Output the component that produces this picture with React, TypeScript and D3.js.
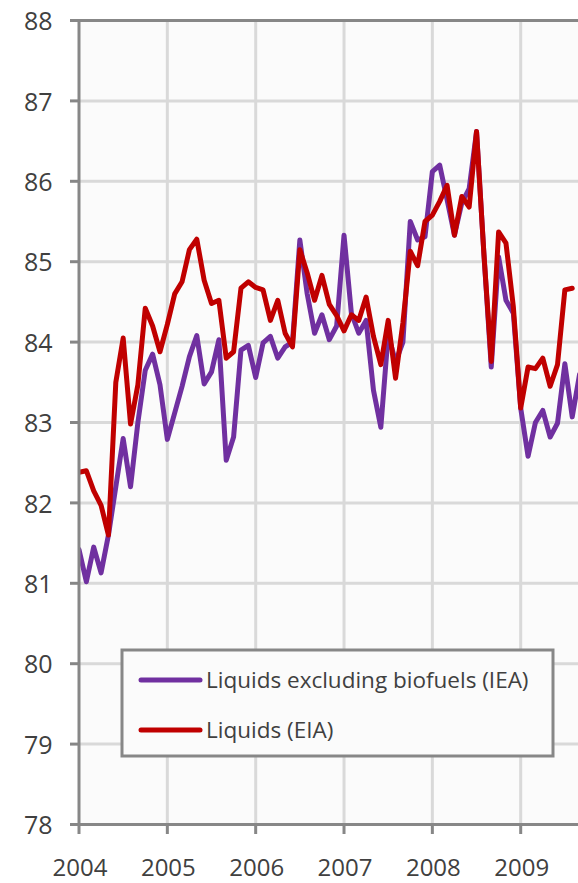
import React from 'react';
import * as d3 from 'd3';

const WIDTH = 578;
const HEIGHT = 883;
const margin = { l: 79, t: 20.5, r: 0, b: 58.5 };

const years = [2004, 2005, 2006, 2007, 2008, 2009];
const yTicks = [78, 79, 80, 81, 82, 83, 84, 85, 86, 87, 88];

// monthly, starting Jan 2004 (mb/d)
const iea = [
  81.42, 81.02, 81.45, 81.13, 81.6, 82.2, 82.8, 82.2, 83.0, 83.65, 83.85, 83.47,
  82.79, 83.12, 83.45, 83.82, 84.08, 83.48, 83.63, 84.03, 82.53, 82.82, 83.9, 83.96,
  83.56, 83.99, 84.07, 83.8, 83.94, 84.0, 85.27, 84.6, 84.11, 84.34, 84.03, 84.2,
  85.33, 84.36, 84.11, 84.27, 83.4, 82.94, 84.1, 83.75, 84.0, 85.5, 85.27, 85.31,
  86.12, 86.2, 85.77, 85.33, 85.73, 85.91, 86.62, 85.1, 83.69, 85.06, 84.52, 84.36,
  83.18, 82.58, 83.0, 83.15, 82.82, 82.99, 83.73, 83.07, 83.6,
];
const eia = [
  82.38, 82.4, 82.15, 81.97, 81.6, 83.5, 84.05, 82.98, 83.47, 84.42, 84.2, 83.88,
  84.22, 84.6, 84.75, 85.15, 85.28, 84.77, 84.48, 84.52, 83.8, 83.88, 84.67, 84.75,
  84.68, 84.65, 84.27, 84.52, 84.11, 83.94, 85.15, 84.86, 84.52, 84.83, 84.47, 84.33,
  84.14, 84.34, 84.27, 84.56, 84.07, 83.72, 84.27, 83.55, 84.24, 85.13, 84.95, 85.5,
  85.58, 85.75, 85.95, 85.33, 85.81, 85.68, 86.62, 85.1, 83.76, 85.37, 85.23, 84.44,
  83.18, 83.69, 83.67, 83.8, 83.45, 83.72, 84.65, 84.67,
];

const series = [
  { name: 'Liquids excluding biofuels (IEA)', color: '#7030a0', values: iea },
  { name: 'Liquids (EIA)', color: '#c00000', values: eia },
];

const GRID = '#d9d9d9';
const AXIS = '#878787';
const TEXT = '#404040';
const FONT = "'Open Sans', 'Liberation Sans', sans-serif";

const App = () => {
  const plotW = 88.34 * 6;
  const plotH = HEIGHT - margin.t - margin.b;

  // x in months since Jan 2004
  const xScale = d3.scaleLinear().domain([0, 72]).range([0, plotW]);
  const yScale = d3.scaleLinear().domain([78, 88]).range([plotH, 0]);

  const line = d3
    .line<number>()
    .x((d, i) => xScale(i))
    .y((d) => yScale(d));

  return (
    <svg
      width={WIDTH}
      height={HEIGHT}
      style={{ position: 'absolute', left: 0, top: 0, background: '#fff' }}
      fontFamily={FONT}
    >
      <defs>
        <clipPath id="plot">
          <rect x={0} y={-5} width={plotW} height={plotH + 10} />
        </clipPath>
      </defs>
      <g transform={`translate(${margin.l}, ${margin.t})`}>
        <rect x={0} y={0} width={plotW} height={plotH} fill="#fbfbfb" />
        {/* gridlines */}
        {yTicks.map((t) => (
          <line key={'gy' + t} x1={0} x2={plotW} y1={yScale(t)} y2={yScale(t)} stroke={GRID} strokeWidth={3} />
        ))}
        {years.slice(1).map((yr) => (
          <line
            key={'gx' + yr}
            x1={xScale((yr - 2004) * 12)}
            x2={xScale((yr - 2004) * 12)}
            y1={0}
            y2={plotH}
            stroke={GRID}
            strokeWidth={3}
          />
        ))}
        {/* frame top */}
        <line x1={0} x2={plotW} y1={0} y2={0} stroke={AXIS} strokeWidth={3} />

        <g clipPath="url(#plot)">
          {series.map((s) => (
            <path
              key={s.name}
              d={line(s.values) || ''}
              fill="none"
              stroke={s.color}
              strokeWidth={5}
              strokeLinejoin="round"
              strokeLinecap="round"
            />
          ))}
        </g>

        {/* axes */}
        <line x1={0} x2={0} y1={-1.5} y2={plotH + 1.5} stroke={AXIS} strokeWidth={3} />
        <line x1={-9} x2={plotW} y1={plotH} y2={plotH} stroke={AXIS} strokeWidth={3} />
        {yTicks.map((t) => (
          <g key={'ty' + t} transform={`translate(0, ${yScale(t)})`}>
            <line x1={-9} x2={0} stroke={AXIS} strokeWidth={3} />
            <text x={-26.5} y={1} dy="0.35em" textAnchor="end" fontSize={25} fill={TEXT}>
              {t}
            </text>
          </g>
        ))}
        {years.map((yr) => (
          <g key={'tx' + yr} transform={`translate(${xScale((yr - 2004) * 12)}, ${plotH})`}>
            <line y1={0} y2={9.5} stroke={AXIS} strokeWidth={3} />
            <text x={1} y={51.5} textAnchor="middle" fontSize={24} fill={TEXT}>
              {yr}
            </text>
          </g>
        ))}
      </g>

      {/* legend */}
      <g transform="translate(122, 650)">
        <rect x={0} y={0} width={431} height={106} fill="#fbfbfb" stroke={AXIS} strokeWidth={3} />
        {series.map((s, i) => (
          <g key={'lg' + s.name} transform={`translate(0, ${30 + i * 50})`}>
            <line x1={19} x2={78} y1={0} y2={0} stroke={s.color} strokeWidth={5} strokeLinecap="round" />
            <text x={84} dy="0.35em" fontSize={22.5} fill={TEXT}>
              {s.name}
            </text>
          </g>
        ))}
      </g>
    </svg>
  );
};

export default App;
